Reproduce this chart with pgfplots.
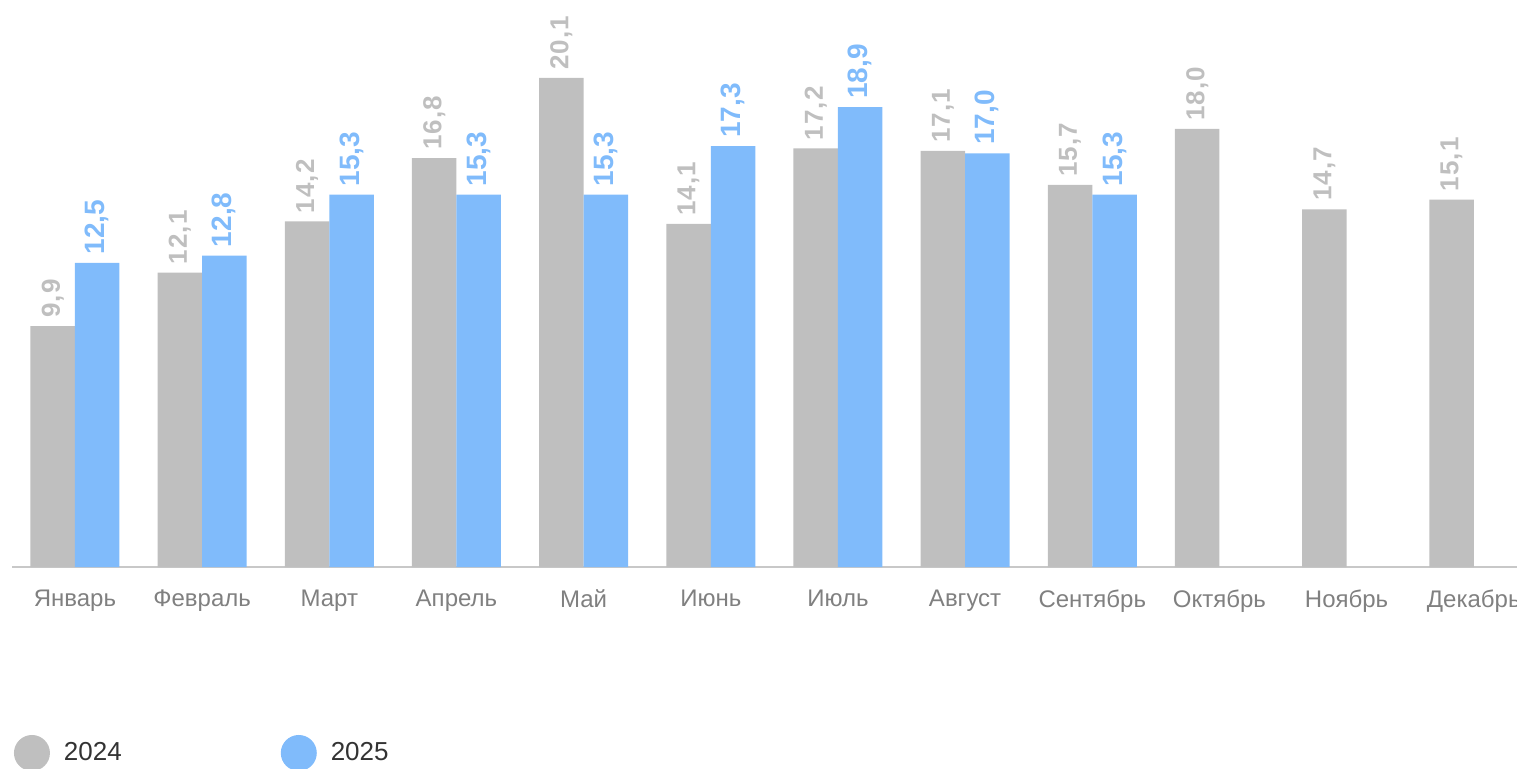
\documentclass[border=0pt]{standalone}
\usepackage{pgfplots}
\pgfplotsset{compat=1.18}
\usepackage{fontspec}
\setmainfont{Liberation Sans}
\definecolor{g24}{HTML}{BFBFBF}
\definecolor{b25}{HTML}{80BBFB}
\definecolor{lbl}{HTML}{808080}
\definecolor{axl}{HTML}{C8C8C8}
\definecolor{leg}{HTML}{333333}

\begin{document}
\begin{tikzpicture}
\begin{axis}[
    name=ax,
    scale only axis,
    width=752.5pt, height=283.5pt,
    ymin=0, ymax=23.3,
    xmin=-0.495, xmax=11.34,
    ybar=0pt, bar width=22.25pt,
    axis y line=none,
    axis x line=bottom,
    x axis line style={draw=axl, line width=1pt, -},
    xtick={0,...,11},
    xticklabels={Январь,Февраль,Март,Апрель,Май,Июнь,Июль,Август,Сентябрь,Октябрь,Ноябрь,Декабрь},
    major tick length=0pt,
    xticklabel style={font=\fontsize{12}{14}\selectfont, text=lbl, yshift=-8pt},
    nodes near coords={\pgfmathprintnumber[assume math mode=true,use comma,fixed,fixed zerofill,precision=1]{\pgfplotspointmeta}},
    every node near coord/.append style={rotate=90, anchor=west, inner sep=4pt},
    clip=false,
    legend columns=2,
    legend style={draw=none, fill=none, inner sep=0pt, outer sep=0pt,
        at={(axis description cs:0.0013,-0.328)}, anchor=west,
        font=\fontsize{13}{15}\selectfont, text=leg,
        /tikz/every odd column/.append style={column sep=5pt},
        /tikz/every even column/.append style={column sep=77.5pt}},
    legend image code/.code={\fill[#1] (9pt,0pt) circle (9pt);},
]
% 2024
\addplot+[draw=none, fill=g24, every node near coord/.append style={text=g24, font=\fontsize{13}{15}\selectfont\bfseries\addfontfeature{LetterSpace=4}}]
  coordinates {(0,9.9) (1,12.1) (2,14.2) (3,16.8) (4,20.1) (5,14.1) (6,17.2) (7,17.1) (8,15.7) (9,18.0) (10,14.7) (11,15.1)};
\addlegendentry{2024}
% 2025
\addplot+[draw=none, fill=b25, every node near coord/.append style={text=b25, font=\fontsize{14}{16}\selectfont\bfseries}]
  coordinates {(0,12.5) (1,12.8) (2,15.3) (3,15.3) (4,15.3) (5,17.3) (6,18.9) (7,17.0) (8,15.3)};
\addlegendentry{2025}
\end{axis}
\pgfresetboundingbox
\path (ax.south west) ++(-6pt,-100.5pt) rectangle ++(758.5pt,384pt);
\end{tikzpicture}
\end{document}
